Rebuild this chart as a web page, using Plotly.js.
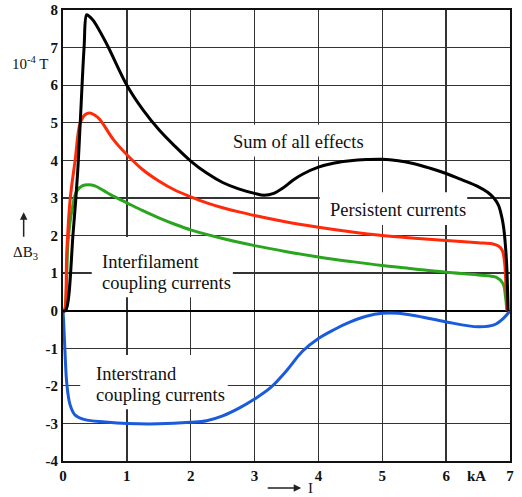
<!DOCTYPE html>
<html>
<head>
<meta charset="utf-8">
<script src="https://cdn.plot.ly/plotly-3.0.1.min.js"></script>
<style>
html,body{margin:0;padding:0;background:#fff;}
#chart{width:522px;height:497px;}
</style>
</head>
<body>
<div id="chart"></div>
<script>
// Sum of all effects (black)
const xSum = [0, 0.04, 0.16, 0.23, 0.27, 0.33, 0.37, 0.40, 0.47, 0.68, 1.0, 1.25, 1.5, 1.75, 2.0, 2.25, 2.5, 2.75, 3.0, 3.15, 3.3, 3.45, 3.6, 3.75, 4.0, 4.25, 4.5, 4.75, 5.0, 5.25, 5.5, 5.75, 6.0, 6.25, 6.5, 6.65, 6.75, 6.82, 6.87, 6.9, 6.93, 6.95, 6.97];
const ySum = [0, 0, 2.1, 3.7, 5.0, 7.0, 7.87, 7.85, 7.73, 7.11, 6.0, 5.35, 4.82, 4.38, 3.98, 3.66, 3.41, 3.24, 3.12, 3.07, 3.12, 3.27, 3.47, 3.63, 3.82, 3.93, 3.99, 4.02, 4.03, 3.99, 3.91, 3.79, 3.65, 3.48, 3.3, 3.15, 2.99, 2.8, 2.5, 2.22, 1.7, 1.15, 0];

// Persistent currents (red)
const xPers = [0, 0.02, 0.06, 0.11, 0.19, 0.27, 0.35, 0.42, 0.5, 0.58, 0.79, 1.0, 1.25, 1.5, 1.75, 2.0, 2.25, 2.5, 2.75, 3.0, 3.5, 4.0, 4.5, 5.0, 5.5, 6.0, 6.5, 6.72, 6.82, 6.88, 6.92, 6.94, 6.96];
const yPers = [0, 0, 1.6, 2.93, 4.0, 5.0, 5.22, 5.26, 5.2, 5.08, 4.55, 4.15, 3.75, 3.45, 3.21, 3.03, 2.87, 2.74, 2.63, 2.53, 2.36, 2.22, 2.1, 2.0, 1.93, 1.87, 1.81, 1.78, 1.72, 1.6, 1.2, 0.5, 0];

// Interfilament coupling currents (green)
const xFil = [0, 0.02, 0.08, 0.14, 0.21, 0.3, 0.4, 0.5, 0.63, 0.75, 1.0, 1.25, 1.5, 1.75, 2.0, 2.5, 3.0, 3.5, 4.0, 4.5, 5.0, 5.5, 6.0, 6.5, 6.78, 6.89, 6.93, 6.95];
const yFil = [0, 0, 1.87, 2.67, 3.17, 3.32, 3.35, 3.32, 3.2, 3.08, 2.87, 2.66, 2.47, 2.3, 2.15, 1.92, 1.73, 1.57, 1.43, 1.31, 1.2, 1.11, 1.02, 0.95, 0.89, 0.72, 0.36, 0];

// Interstrand coupling currents (blue)
const xStr = [0, 0.01, 0.03, 0.06, 0.11, 0.19, 0.34, 0.66, 1.0, 1.5, 2.0, 2.25, 2.5, 2.75, 3.0, 3.25, 3.5, 3.75, 4.0, 4.25, 4.5, 4.75, 5.0, 5.25, 5.5, 6.0, 6.5, 6.75, 6.9, 7.0];
const yStr = [0, -0.3, -1.05, -1.95, -2.5, -2.78, -2.9, -2.96, -3.0, -3.01, -2.97, -2.93, -2.8, -2.6, -2.35, -2.05, -1.6, -1.08, -0.74, -0.5, -0.3, -0.15, -0.07, -0.07, -0.13, -0.3, -0.43, -0.38, -0.2, 0];

const xTicks = [0, 1, 2, 3, 4, 5, 6, 7];
const yTicks = [-4, -3, -2, -1, 0, 1, 2, 3, 4, 5, 6, 7, 8];

const serif = '"Liberation Serif", "Times New Roman", serif';
const lineShape = {shape: 'spline', smoothing: 1.0, width: 3};

const traces = [
  {x: xStr, y: yStr, mode: 'lines', line: Object.assign({color: '#1a5adc'}, lineShape), hoverinfo: 'skip'},
  {x: xFil, y: yFil, mode: 'lines', line: Object.assign({color: '#2aa51e'}, lineShape), hoverinfo: 'skip'},
  {x: xPers, y: yPers, mode: 'lines', line: Object.assign({color: '#ff2a0a'}, lineShape), hoverinfo: 'skip'},
  {x: xSum, y: ySum, mode: 'lines', line: Object.assign({color: '#000000'}, lineShape), hoverinfo: 'skip'}
];

const labelFont = {family: serif, size: 18.5, color: '#111'};
function lab(text, x, y, anchor) {
  return {text: text, x: x, y: y, xref: 'x', yref: 'y', showarrow: false,
    xanchor: anchor || 'center', yanchor: 'middle', font: labelFont};
}
// white boxes behind the labels (between gridlines and curves)
function box(x0, x1, y0, y1) {
  return {type: 'rect', xref: 'x', yref: 'y', x0: x0, x1: x1, y0: y0, y1: y1,
    fillcolor: '#ffffff', line: {width: 0}, layer: 'between'};
}

const layout = {
  width: 522, height: 497,
  margin: {l: 63, r: 12, t: 10, b: 36},
  paper_bgcolor: '#fff', plot_bgcolor: '#fff',
  showlegend: false,
  xaxis: {
    range: [0, 7], tickvals: xTicks, ticktext: xTicks.map(String),
    showgrid: true, gridcolor: '#333333', gridwidth: 1.3,
    zeroline: false, showline: true, linecolor: '#111', linewidth: 2, mirror: true,
    ticks: '', tickfont: {family: serif, size: 15, color: '#111', weight: 'bold'}
  },
  yaxis: {
    range: [-4, 8], tickvals: yTicks, ticktext: yTicks.map(String),
    showgrid: true, gridcolor: '#333333', gridwidth: 1.3,
    zeroline: true, zerolinecolor: '#000', zerolinewidth: 2,
    showline: true, linecolor: '#111', linewidth: 2, mirror: true,
    ticks: '', tickfont: {family: serif, size: 15, color: '#111', weight: 'bold'}
  },
  shapes: [
    box(2.55, 4.83, 4.1, 4.95),
    box(4.02, 6.33, 2.28, 3.15),
    box(0.45, 2.66, 0.36, 1.96),
    box(0.27, 2.58, -2.62, -1.18)
  ],
  annotations: [
    lab('Sum of all effects', 3.69, 4.48),
    lab('Persistent currents', 5.25, 2.68),
    lab('Interfilament', 0.58, 1.29, 'left'),
    lab('coupling currents', 0.58, 0.73, 'left'),
    lab('Interstrand', 0.48, -1.69, 'left'),
    lab('coupling currents', 0.48, -2.25, 'left'),
    {text: '10<sup>-4</sup> T', xref: 'paper', yref: 'y', x: -0.03, y: 6.6, xanchor: 'right', yanchor: 'middle',
      showarrow: false, font: {family: serif, size: 15, color: '#111'}},
    {text: 'ΔB<sub>3</sub>', xref: 'paper', yref: 'y', x: -0.085, y: 1.53, xanchor: 'center', yanchor: 'middle',
      showarrow: false, font: {family: serif, size: 15, color: '#111'}},
    {text: '', xref: 'paper', yref: 'y', x: -0.088, y: 2.62, showarrow: true, ax: 0, ay: 26,
      arrowhead: 2, arrowsize: 1, arrowwidth: 1.5, arrowcolor: '#222'},
    {text: 'kA', xref: 'x', yref: 'paper', x: 6.48, y: -0.034, xanchor: 'center', yanchor: 'middle',
      showarrow: false, font: {family: serif, size: 15, color: '#111', weight: 'bold'}},
    {text: '', xref: 'x', yref: 'paper', x: 3.73, y: -0.06, showarrow: true, ax: -35, ay: 0,
      arrowhead: 2, arrowsize: 1, arrowwidth: 1.5, arrowcolor: '#222'},
    {text: 'I', xref: 'x', yref: 'paper', x: 3.8, y: -0.06, xanchor: 'left', yanchor: 'middle',
      showarrow: false, font: {family: serif, size: 15, color: '#111'}}
  ]
};

Plotly.newPlot('chart', traces, layout, {staticPlot: true, displayModeBar: false});
</script>
</body>
</html>
